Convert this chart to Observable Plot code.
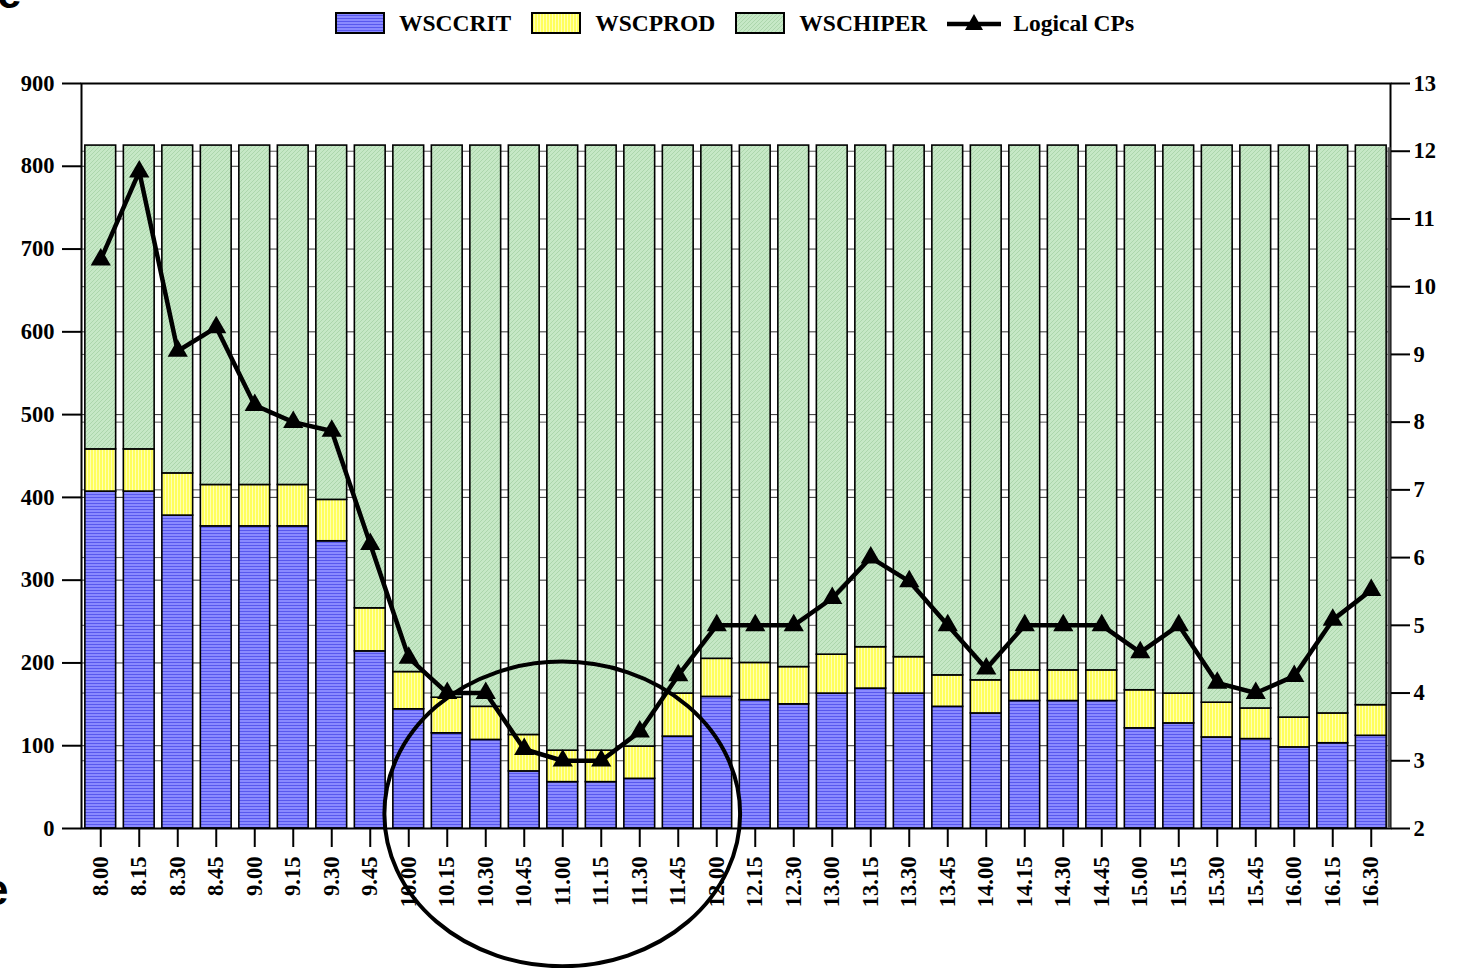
<!DOCTYPE html>
<html><head><meta charset="utf-8">
<script src="https://cdn.jsdelivr.net/npm/d3@7"></script>
<script src="https://cdn.jsdelivr.net/npm/@observablehq/plot@0.6"></script>
<style>
html,body{margin:0;padding:0;background:#fff;overflow:hidden;width:1459px;height:968px;position:relative}
#legend{height:46px;padding-bottom:4px;display:flex;justify-content:center;align-items:center;padding-left:10px;font-family:"Liberation Serif",serif;font-weight:bold;font-size:23.5px;color:#000}
.item{display:flex;align-items:center;margin-right:20px}
.item:last-child{margin-right:0}
.item svg{margin-right:14px;display:block}
.edge{position:absolute;font-family:"Liberation Sans",sans-serif;font-weight:bold;font-size:44px;line-height:1;color:#000}
</style></head>
<body>
<svg width="0" height="0" style="position:absolute">
<defs>
<pattern id="pBlue" width="4" height="3" patternUnits="userSpaceOnUse">
<rect width="4" height="3" fill="#8a8aff"/><rect width="4" height="1" fill="#5858ee"/>
</pattern>
<pattern id="pYellow" width="3" height="4" patternUnits="userSpaceOnUse">
<rect width="3" height="4" fill="#ffff5c"/><rect width="1" height="4" fill="#ffffb4"/>
</pattern>
<pattern id="pGreen" width="4" height="4" patternUnits="userSpaceOnUse">
<rect width="4" height="4" fill="#c6e8c6"/><path d="M-1,1 l2,-2 M0,4 l4,-4 M3,5 l2,-2" stroke="#acd6ac" stroke-width="1"/>
</pattern>
</defs></svg>
<div id="legend"></div>
<div id="chart"></div>
<span class="edge" style="left:-3px;top:-29px">e</span>
<span class="edge" style="left:-16px;top:868px">e</span>
<script>
const times = ["8.00","8.15","8.30","8.45","9.00","9.15","9.30","9.45","10.00","10.15","10.30","10.45","11.00","11.15","11.30","11.45","12.00","12.15","12.30","13.00","13.15","13.30","13.45","14.00","14.15","14.30","14.45","15.00","15.15","15.30","15.45","16.00","16.15","16.30"];
const wsccrit = [407,407,378,365,365,365,347,214,144,115,107,69,56,56,60,111,159,155,150,163,169,163,147,139,154,154,154,121,127,110,108,98,103,112];
const wscprod = [51,51,51,50,50,50,50,52,45,43,40,44,38,38,39,52,46,45,45,47,50,44,38,40,37,37,37,46,36,42,37,36,36,37];
const wschiper = [367,367,396,410,410,410,428,559,636,667,678,712,731,731,726,662,620,625,630,615,606,618,640,646,634,634,634,658,662,673,680,691,686,676];
const logicalCPs = [10.4,11.7,9.05,9.4,8.25,8.0,7.87,6.2,4.52,4.0,4.0,3.17,3.0,3.0,3.43,4.26,5.0,5.0,5.0,5.4,6.0,5.65,5.0,4.36,5.0,5.0,5.0,4.6,5.0,4.15,4.0,4.25,5.08,5.52];
const seriesNames = ["WSCCRIT","WSCPROD","WSCHIPER"];
const lineName = "Logical CPs";
const leftTicks = [0,100,200,300,400,500,600,700,800,900];
const rightTicks = [2,3,4,5,6,7,8,9,10,11,12,13];

const patterns = ["url(#pBlue)","url(#pYellow)","url(#pGreen)"];
const yMax = 900, cpMin = 2, cpMax = 13;
const cpY = cp => (cp - cpMin) * yMax / (cpMax - cpMin);

const seriesValues = [wsccrit, wscprod, wschiper];
const data = [];
seriesNames.forEach((s, k) => times.forEach((t, i) => data.push({time: t, series: s, value: seriesValues[k][i]})));
const cpData = times.map((t, i) => ({time: t, cp: logicalCPs[i]}));

// legend
const legend = document.getElementById("legend");
seriesNames.forEach((s, k) => {
  const it = document.createElement("div"); it.className = "item";
  it.innerHTML = `<svg width="50" height="22"><rect x="1" y="1" width="48" height="20" fill="${patterns[k]}" stroke="#000" stroke-width="2"/></svg><span>${s}</span>`;
  legend.appendChild(it);
});
{
  const it = document.createElement("div"); it.className = "item";
  it.innerHTML = `<svg width="54" height="22" style="margin-right:12px"><line x1="0" y1="12" x2="54" y2="12" stroke="#000" stroke-width="4.5"/><path d="M27,2 L36,18 L18,18 Z" fill="#000"/></svg><span>${lineName}</span>`;
  legend.appendChild(it);
}

const plot = Plot.plot({
  width: 1459, height: 918,
  marginTop: 33, marginBottom: 140, marginLeft: 81, marginRight: 69,
  style: {fontFamily: '"Liberation Serif", serif', fontSize: "22.5px", fontWeight: "bold", background: "white", overflow: "visible", color: "#000"},
  x: {domain: times, paddingInner: 0.2, paddingOuter: 0.1, round: false, label: null},
  y: {domain: [0, yMax], label: null},
  color: {domain: seriesNames, range: patterns},
  marks: [
    Plot.gridY({ticks: leftTicks, stroke: "#333", strokeOpacity: 1, strokeWidth: 1}),
    Plot.gridY({ticks: rightTicks.map(cpY), stroke: "#555", strokeOpacity: 1, strokeWidth: 1}),
    Plot.barY(data, {x: "time", y: "value", fill: "series", stroke: "#000", strokeWidth: 1.6}),
    Plot.line(cpData, {x: "time", y: d => cpY(d.cp), stroke: "#000", strokeWidth: 4.5}),
    Plot.dot(cpData, {x: "time", y: d => cpY(d.cp), symbol: "triangle", r: 7.5, fill: "#000", stroke: "none"}),
    Plot.frame({stroke: "#000", strokeWidth: 2}),
    Plot.axisY({anchor: "left", ticks: leftTicks, tickSize: 19, tickPadding: 8, strokeWidth: 2, label: null}),
    Plot.axisY({anchor: "right", ticks: rightTicks.map(cpY), tickFormat: v => String(Math.round(v * (cpMax - cpMin) / yMax + cpMin)), tickSize: 19, tickPadding: 4, strokeWidth: 2, label: null}),
    Plot.axisX({anchor: "bottom", tickRotate: -90, tickSize: 19, tickPadding: 9, strokeWidth: 2, label: null})
  ]
});
document.getElementById("chart").appendChild(plot);

// thick shaded right edge of the frame, as in the reference
const xs = plot.scale("x"), ys = plot.scale("y");
d3.select(plot).append("line")
  .attr("x1", 1459 - 69 - 1).attr("x2", 1459 - 69 - 1)
  .attr("y1", ys.apply(cpY(12.05))).attr("y2", ys.apply(0))
  .attr("stroke", "#555").attr("stroke-width", 3);

// annotation ellipse around the 10.00–12.00 dip
const cx = xs.apply("11.00") + xs.bandwidth / 2;
const cy = ys.apply(17);
const rx = xs.step * 4.62;
const ry = ys.apply(0) - ys.apply(184);
d3.select(plot).append("ellipse")
  .attr("cx", cx).attr("cy", cy).attr("rx", rx).attr("ry", ry)
  .attr("fill", "none").attr("stroke", "#000").attr("stroke-width", 4);
</script>
</body></html>
